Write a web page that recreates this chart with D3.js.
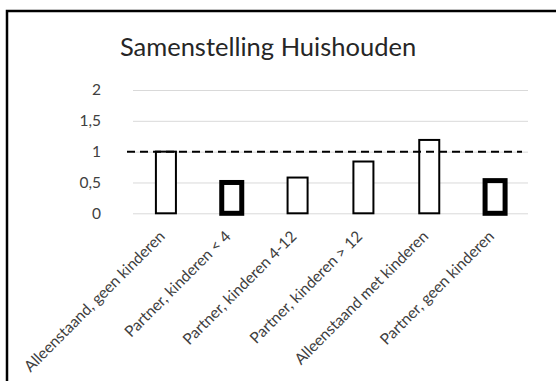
<!DOCTYPE html>
<html>
<head>
<meta charset="utf-8">
<script src="https://cdn.jsdelivr.net/npm/d3@7/dist/d3.min.js"></script>
<style>
  html, body { margin: 0; padding: 0; background: #fff; }
  svg { display: block; }
  text { font-family: Lato, "Open Sans", sans-serif; fill: #404040; }
</style>
</head>
<body>
<svg id="chart" width="556" height="381"></svg>
<script>
// Household composition factors
const categories = [
  "Alleenstaand, geen kinderen",
  "Partner, kinderen < 4",
  "Partner, kinderen 4-12",
  "Partner, kinderen > 12",
  "Alleenstaand met kinderen",
  "Partner, geen kinderen"
];
const values = [1.0, 0.50, 0.58, 0.84, 1.19, 0.53];
const yTicks = [0, 0.5, 1, 1.5, 2];
const referenceValue = 1;
const title = "Samenstelling Huishouden";

// categories drawn with a heavy outline
const emphasised = new Set(["Partner, kinderen < 4", "Partner, geen kinderen"]);

const plot = { left: 133, right: 528, top: 90, bottom: 213.3 };

const svg = d3.select("#chart");

// Chart frame (extends past the visible area on the right and bottom)
svg.append("rect")
  .attr("x", 7).attr("y", 11)
  .attr("width", 620).attr("height", 420)
  .attr("fill", "none").attr("stroke", "#000").attr("stroke-width", 2.5);

svg.append("text")
  .attr("x", 268).attr("y", 56)
  .attr("text-anchor", "middle")
  .style("font-size", "25.5px")
  .style("fill", "#262626")
  .text(title);

const x = d3.scaleBand()
  .domain(categories)
  .range([plot.left, plot.right])
  .paddingInner(0.696)
  .paddingOuter(0.348);

const y = d3.scaleLinear()
  .domain([0, 2])
  .range([plot.bottom, plot.top]);

const fmt = v => d3.format("~g")(v).replace(".", ",");

// Gridlines and value labels
const yAxis = d3.axisLeft(y)
  .tickValues(yTicks)
  .tickFormat(fmt)
  .tickSize(-(plot.right - plot.left))
  .tickPadding(32);

const gy = svg.append("g")
  .attr("transform", `translate(${plot.left},0)`)
  .call(yAxis);
gy.select(".domain").remove();
gy.selectAll(".tick line")
  .attr("x1", 0)
  .attr("stroke", "#d9d9d9").attr("stroke-width", 1);
gy.selectAll(".tick text")
  .style("font-size", "15.5px")
  .style("font-family", "Lato, 'Open Sans', sans-serif")
  .attr("fill", "#404040");

// Bars
svg.append("g")
  .selectAll("rect")
  .data(categories.map((c, i) => ({ c, v: values[i] })))
  .join("rect")
  .attr("x", d => x(d.c))
  .attr("width", x.bandwidth())
  .attr("y", d => y(d.v))
  .attr("height", d => y(0) - y(d.v))
  .attr("fill", "#fff")
  .attr("stroke", "#000")
  .attr("stroke-width", d => emphasised.has(d.c) ? 5 : 2);

// Reference line
svg.append("line")
  .attr("x1", plot.left - 6).attr("x2", plot.right - 6)
  .attr("y1", y(referenceValue)).attr("y2", y(referenceValue))
  .attr("stroke", "#000")
  .attr("stroke-width", 2)
  .attr("stroke-dasharray", "8,5");

// Category labels
const xAxis = d3.axisBottom(x).tickSize(0).tickPadding(0);
const gx = svg.append("g")
  .attr("transform", `translate(0,${plot.bottom})`)
  .call(xAxis);
gx.select(".domain").remove();
gx.selectAll(".tick text")
  .style("font-size", "15.5px")
  .style("font-family", "Lato, 'Open Sans', sans-serif")
  .attr("fill", "#404040")
  .attr("text-anchor", "end")
  .attr("dy", null)
  .attr("y", null)
  .attr("transform", "translate(0,24) rotate(-45)");
</script>
</body>
</html>
